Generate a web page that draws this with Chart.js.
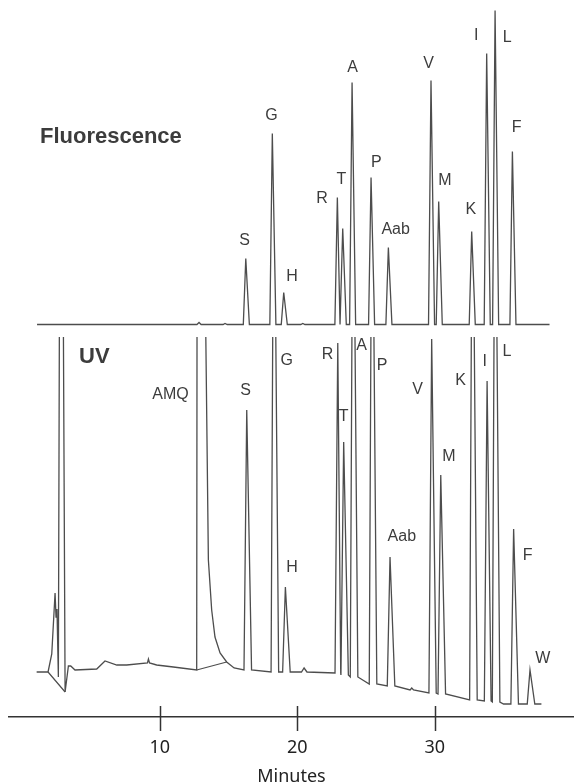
<!DOCTYPE html>
<html>
<head>
<meta charset="utf-8">
<script src="https://cdn.jsdelivr.net/npm/chart.js@4.4.1/dist/chart.umd.min.js"></script>
<style>
  body { margin: 0; background: #fff; }
  #wrap { position: relative; width: 574px; height: 784px; }
  canvas { position: absolute; left: 0; }
</style>
</head>
<body>
<div id="wrap">
  <canvas id="chart_fluor" width="574" height="337" style="top:0"></canvas>
  <canvas id="chart_uv" width="574" height="447" style="top:337px"></canvas>
</div>
<script>
// retention time axis (minutes)
var tick_minutes = [10, 20, 30];
var x_min = -0.97;
var x_max = 40.12;

// ---- Fluorescence detector ----
var fluor_names = ["S", "G", "H", "R", "T", "A", "P", "Aab", "V", "M", "K", "I", "L", "F"];
var fluor_times = [16.25, 18.18, 19.01, 22.91, 23.30, 23.98, 25.36, 26.62, 29.72, 30.28, 32.68, 33.77, 34.38, 35.64];
var fluor_heights = [66, 191, 32, 127, 96, 242, 147, 77, 244, 123, 93, 271, 314, 173];
// baseline (with the tiny blips)
var fluor_base_t = [1.07, 12.70, 12.85, 13.00, 14.60, 14.74, 14.90, 20.25, 20.40, 20.55, 38.34];
var fluor_base_v = [0, 0, 2, 0, 0, 1, 0, 0, 1, 0, 0];
// where the peak names sit (minutes, signal)
var fluor_label_t = [16.17, 18.12, 19.61, 21.80, 23.21, 24.01, 25.74, 27.15, 29.55, 30.74, 32.61, 33.01, 35.27, 35.94];
var fluor_label_v = [84, 209, 48, 126, 145, 257, 162, 95, 261, 144, 115, 289, 287, 197];

// ---- UV detector ----
var uv_names = ["S", "G", "H", "R", "T", "A", "P", "Aab", "V", "M", "K", "I", "L", "F", "W"];
var uv_times = [16.32, 18.29, 19.13, 22.94, 23.37, 24.05, 25.43, 26.74, 29.77, 30.43, 32.73, 33.80, 34.38, 35.73, 36.92];
var uv_heights = [295, 600, 118, 362, 263, 600, 600, 148, 366, 230, 600, 324, 600, 176, 35]; // 600 = off scale
var uv_bases = [35, 33, 33, 32, 30, 28, 21, 19, 12, 11, 5, 4, 3, 1, 1];
// solvent front, AMQ reagent peak and drifting baseline
var uv_trace_t = [1.04, 1.87, 2.14, 2.38, 2.45, 2.52, 2.62, 2.74, 2.91, 3.11, 3.35, 3.52, 3.83, 5.41, 6.01, 6.87, 7.59,
                  9.10, 9.17, 9.25, 9.77, 10.98, 12.68, 12.72, 13.15, 13.53, 13.77, 14.01, 14.38, 14.86, 15.40,
                  20.30, 20.49, 20.70, 28.20, 28.32, 28.45, 35.00, 37.75];
var uv_trace_v = [33, 33, 51, 112, 88, 96, 28, 600, 600, 13, 39, 39, 35, 36, 44, 40, 40,
                  42, 46, 42, 40, 38, 35, 600, 600, 145, 95, 68, 52, 43, 37,
                  33, 37, 33, 15, 17, 15, 1, 1];
// straight drop baselines drawn under the solvent front and AMQ
var uv_drop_t = [1.87, 3.11, null, 12.68, 14.86];
var uv_drop_v = [33, 13, null, 35, 43];
var uv_label_text = ["AMQ", "S", "G", "H", "R", "T", "A", "P", "Aab", "V", "M", "K", "I", "L", "F", "W"];
var uv_label_t = [10.78, 16.23, 19.23, 19.61, 22.20, 23.36, 24.68, 26.16, 27.60, 28.74, 31.02, 31.87, 33.63, 35.25, 36.74, 37.86];
var uv_label_v = [310, 314, 344, 137, 350, 288, 359, 339, 168, 315, 248, 324, 343, 353, 149, 46];

var line_color = "#4d4d4d";
var text_color = "#3c3c3c";

function build_trace(peak_t, peak_h, peak_b, extra_t, extra_v, wl, wr) {
    var pts = [];
    for (var i = 0; i < extra_t.length; i++) {
        pts.push({ x: extra_t[i], y: extra_v[i] });
    }
    for (var j = 0; j < peak_t.length; j++) {
        var left = peak_t[j] - wl;
        var right = peak_t[j] + wr;
        if (j > 0) left = Math.max(left, (peak_t[j - 1] + peak_t[j]) / 2);
        if (j < peak_t.length - 1) right = Math.min(right, (peak_t[j] + peak_t[j + 1]) / 2);
        pts.push({ x: left, y: peak_b[j] }, { x: peak_t[j], y: peak_h[j] }, { x: right, y: peak_b[j] });
    }
    pts.sort(function (a, b) { return a.x - b.x; });
    return pts;
}

function zip_points(ts, vs) {
    return ts.map(function (t, i) { return { x: t, y: vs[i] }; });
}

// draws peak names / panel titles at (minutes, signal) via the chart scales
var label_plugin = {
    id: "peak_labels",
    afterDatasetsDraw: function (chart, args, opts) {
        var ctx = chart.ctx;
        ctx.save();
        ctx.fillStyle = text_color;
        ctx.textAlign = "center";
        ctx.textBaseline = "middle";
        (opts.groups || []).forEach(function (g) {
            ctx.font = g.font;
            g.text.forEach(function (txt, i) {
                ctx.fillText(txt, chart.scales.x.getPixelForValue(g.t[i]), chart.scales.y.getPixelForValue(g.v[i]));
            });
        });
        ctx.restore();
    },
};

// tick marks that cross the axis line
var tick_plugin = {
    id: "cross_ticks",
    afterDraw: function (chart) {
        var sc = chart.scales.x;
        var ctx = chart.ctx;
        ctx.save();
        ctx.strokeStyle = "#333";
        ctx.lineWidth = 1.5;
        sc.ticks.forEach(function (tk) {
            var px = Math.round(sc.getPixelForValue(tk.value)) + 0.5;
            ctx.beginPath();
            ctx.moveTo(px, sc.top - 11);
            ctx.lineTo(px, sc.top + 14);
            ctx.stroke();
        });
        ctx.restore();
    },
};

var label_font = "16px 'Liberation Sans', Arial, sans-serif";
var title_font = "bold 22px 'Liberation Sans', Arial, sans-serif";

var ctx_fluor = document.getElementById("chart_fluor");
var chart_fluor = new Chart(ctx_fluor, {
    type: "line",
    data: {
        datasets: [
            {
                label: "Fluorescence",
                data: build_trace(fluor_times, fluor_heights, fluor_times.map(function () { return 0; }),
                    fluor_base_t, fluor_base_v, 0.18, 0.26),
                borderColor: line_color,
                borderWidth: 1.3,
                pointRadius: 0,
                tension: 0,
                fill: false,
            },
        ],
    },
    options: {
        responsive: false,
        animation: false,
        devicePixelRatio: 1,
        layout: { padding: { left: 9, right: 0, top: 0, bottom: 0 } },
        scales: {
            x: { type: "linear", min: x_min, max: x_max, display: false },
            y: { min: -12.5, max: 324.5, display: false },
        },
        plugins: {
            legend: { display: false },
            tooltip: { enabled: false },
            peak_labels: {
                groups: [
                    { font: label_font, text: fluor_names, t: fluor_label_t, v: fluor_label_v },
                    { font: title_font, text: ["Fluorescence"], t: [6.44], v: [188] },
                ],
            },
        },
    },
    plugins: [label_plugin],
});

var ctx_uv = document.getElementById("chart_uv");
var chart_uv = new Chart(ctx_uv, {
    type: "line",
    data: {
        datasets: [
            {
                label: "UV",
                data: build_trace(uv_times, uv_heights, uv_bases, uv_trace_t, uv_trace_v, 0.20, 0.35),
                borderColor: line_color,
                borderWidth: 1.3,
                pointRadius: 0,
                tension: 0,
                fill: false,
            },
            {
                label: "drop",
                data: zip_points(uv_drop_t, uv_drop_v),
                borderColor: line_color,
                borderWidth: 1.2,
                pointRadius: 0,
                tension: 0,
                spanGaps: false,
                fill: false,
            },
        ],
    },
    options: {
        responsive: false,
        animation: false,
        devicePixelRatio: 1,
        layout: { padding: { left: 9, right: 0, top: 0, bottom: 0 } },
        scales: {
            x: {
                type: "linear",
                min: x_min,
                max: x_max,
                afterBuildTicks: function (s) {
                    s.ticks = tick_minutes.map(function (v) { return { value: v }; });
                },
                afterFit: function (s) { s.height = 67; },
                grid: { display: false, drawTicks: true, tickLength: 14 },
                border: { display: true, color: "#333", width: 1.5 },
                ticks: {
                    font: { family: "'Noto Sans', sans-serif", size: 18 },
                    color: "#222",
                    padding: 6,
                    maxRotation: 0,
                    autoSkip: false,
                },
                title: {
                    display: true,
                    text: "Minutes",
                    color: "#222",
                    font: { family: "'Noto Sans', sans-serif", size: 18, lineHeight: 0.8 },
                    padding: 0,
                },
            },
            y: { min: -12, max: 368, display: false },
        },
        plugins: {
            legend: { display: false },
            tooltip: { enabled: false },
            peak_labels: {
                groups: [
                    { font: label_font, text: uv_label_text, t: uv_label_t, v: uv_label_v },
                    { font: title_font, text: ["UV"], t: [5.24], v: [348] },
                ],
            },
        },
    },
    plugins: [label_plugin, tick_plugin],
});
</script>
</body>
</html>
